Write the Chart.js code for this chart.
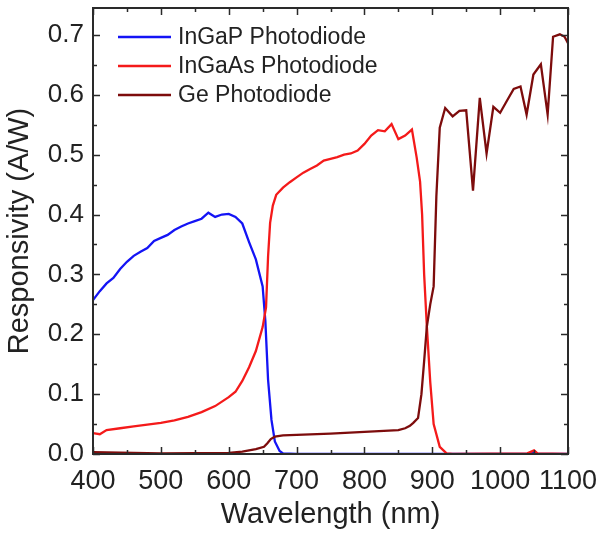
<!DOCTYPE html>
<html>
<head>
<meta charset="utf-8">
<script src="https://cdn.jsdelivr.net/npm/chart.js@4/dist/chart.umd.min.js"></script>
<style>
  html, body { margin: 0; padding: 0; background: #ffffff; }
  #wrap { width: 601px; height: 533px; position: relative; }
</style>
</head>
<body>
<div id="wrap"><canvas id="c" width="601" height="533"></canvas></div>
<script>
// ---- Data ----
const seriesNames = ["InGaP Photodiode", "InGaAs Photodiode", "Ge Photodiode"];

const ingapWl   = [400,410,420,430,440,450,460,470,480,490,500,510,520,530,540,550,560,570,580,590,600,610,620,630,640,650,654,658,663,668,675,680,700,800,900,1000,1045,1050,1055,1100];
const ingapResp = [0.257,0.272,0.285,0.294,0.309,0.321,0.331,0.338,0.344,0.356,0.361,0.366,0.374,0.380,0.385,0.389,0.393,0.403,0.396,0.400,0.401,0.396,0.385,0.354,0.325,0.280,0.222,0.124,0.057,0.021,0.005,0.001,0,0,0,0,0,0.004,0,0];

const ingaasWl   = [400,410,420,440,460,480,500,520,540,560,580,600,610,620,630,640,650,655,658,661,665,670,680,690,700,710,720,730,740,750,760,770,780,790,800,810,820,830,840,850,860,870,877,882,885,888,892,897,902,911,921,930,1040,1050,1055,1100];
const ingaasResp = [0.035,0.033,0.040,0.043,0.046,0.049,0.052,0.056,0.062,0.070,0.080,0.095,0.104,0.122,0.145,0.172,0.212,0.245,0.330,0.386,0.415,0.433,0.445,0.454,0.462,0.470,0.476,0.482,0.490,0.493,0.496,0.500,0.502,0.507,0.518,0.532,0.541,0.539,0.551,0.526,0.532,0.542,0.495,0.455,0.400,0.300,0.213,0.120,0.050,0.012,0.001,0,0.001,0.006,0.001,0];

const geWl   = [400,500,600,620,640,652,657,662,668,680,700,750,800,850,860,867,872,879,884,888,892,897,902,906,911,919,930,940,950,960,970,980,990,1000,1010,1020,1030,1039,1049,1060,1070,1078,1088,1095,1100];
const geResp = [0.003,0.001,0.002,0.004,0.008,0.012,0.018,0.025,0.029,0.031,0.032,0.034,0.037,0.040,0.043,0.047,0.052,0.060,0.100,0.155,0.213,0.250,0.280,0.430,0.545,0.578,0.564,0.573,0.574,0.440,0.595,0.502,0.580,0.570,0.590,0.610,0.614,0.567,0.634,0.651,0.567,0.697,0.701,0.697,0.686];

const xTickValues = [400,450,500,550,600,650,700,750,800,850,900,950,1000,1050,1100];
const xTickLabels = ["400","","500","","600","","700","","800","","900","","1000","","1100"];
const yTickValues = [0,0.05,0.1,0.15,0.2,0.25,0.3,0.35,0.4,0.45,0.5,0.55,0.6,0.65,0.7];
const yTickLabels = ["0.0","","0.1","","0.2","","0.3","","0.4","","0.5","","0.6","","0.7"];

// ---- Styling ----
const colors = ["#1414f5", "#f41a1a", "#7d0c0c"];
const FONT = "'Liberation Sans', Arial, Helvetica, sans-serif";
const TEXT = "#222222";

function pts(wl, r) { return wl.map((w, i) => ({ x: w, y: r[i] })); }

// Inward ticks on all four sides + frame
const framePlugin = {
  id: 'frame',
  afterDatasetsDraw(chart) {
    const { ctx, chartArea: a, scales } = chart;
    const xs = scales.x, ys = scales.y;
    ctx.save();
    ctx.strokeStyle = "#2a2a2a";
    ctx.lineWidth = 1.5;
    ctx.beginPath();
    xs.ticks.forEach((t, i) => {
      const px = Math.round(xs.getPixelForValue(t.value)) + 0.5;
      const len = xTickLabels[i] ? 7 : 4;
      ctx.moveTo(px, a.bottom); ctx.lineTo(px, a.bottom - len);
      ctx.moveTo(px, a.top); ctx.lineTo(px, a.top + len);
    });
    ys.ticks.forEach((t, i) => {
      const py = Math.round(ys.getPixelForValue(t.value)) + 0.5;
      const len = yTickLabels[i] ? 7 : 4;
      ctx.moveTo(a.left, py); ctx.lineTo(a.left + len, py);
      ctx.moveTo(a.right, py); ctx.lineTo(a.right - len, py);
    });
    ctx.stroke();
    ctx.lineWidth = 2;
    ctx.strokeRect(a.left, a.top, a.right - a.left, a.bottom - a.top);
    ctx.restore();
  }
};

// Legend inside the plot, top-left
const legendPlugin = {
  id: 'innerLegend',
  afterDraw(chart) {
    const { ctx } = chart;
    ctx.save();
    ctx.font = "23px " + FONT;
    ctx.textBaseline = "middle";
    ctx.fillStyle = TEXT;
    const rowsY = [37, 66, 95];
    chart.data.datasets.forEach((ds, i) => {
      const y = rowsY[i];
      ctx.strokeStyle = ds.borderColor;
      ctx.lineWidth = 2.5;
      ctx.beginPath(); ctx.moveTo(118, y); ctx.lineTo(171, y); ctx.stroke();
      ctx.fillText(ds.label, 178, y + 1);
    });
    ctx.restore();
  }
};

new Chart(document.getElementById('c'), {
  type: 'line',
  data: {
    datasets: [
      { label: seriesNames[0], data: pts(ingapWl, ingapResp), borderColor: colors[0], order: 3 },
      { label: seriesNames[1], data: pts(ingaasWl, ingaasResp), borderColor: colors[1], order: 2 },
      { label: seriesNames[2], data: pts(geWl, geResp), borderColor: colors[2], order: 1 }
    ]
  },
  options: {
    responsive: false,
    animation: false,
    devicePixelRatio: 1,
    layout: { padding: { left: 0, right: 33, top: 8, bottom: 0 } },
    elements: {
      point: { radius: 0 },
      line: { borderWidth: 2.3, tension: 0, fill: false }
    },
    plugins: { legend: { display: false }, tooltip: { enabled: false } },
    scales: {
      x: {
        type: 'linear', min: 400, max: 1100,
        grid: { display: false, drawTicks: false },
        border: { display: false },
        afterBuildTicks: s => { s.ticks = xTickValues.map(v => ({ value: v })); },
        ticks: {
          padding: 11, color: TEXT, autoSkip: false, maxRotation: 0,
          font: { family: FONT, size: 27 },
          callback: (v, i) => xTickLabels[i]
        },
        title: { display: true, text: 'Wavelength (nm)', color: TEXT, font: { family: FONT, size: 29 }, padding: { top: 0, bottom: 1 } },
        afterFit: s => { s.height = 79; s.paddingLeft = 0; s.paddingRight = 0; }
      },
      y: {
        type: 'linear', min: 0, max: 0.745,
        grid: { display: false, drawTicks: false },
        border: { display: false },
        afterBuildTicks: s => { s.ticks = yTickValues.map(v => ({ value: v })); },
        ticks: {
          padding: 9, color: TEXT, autoSkip: false,
          font: { family: FONT, size: 26 },
          callback: (v, i) => yTickLabels[i]
        },
        title: { display: true, text: 'Responsivity (A/W)', color: TEXT, font: { family: FONT, size: 29 }, padding: { top: 3, bottom: 0 } },
        afterFit: s => { s.width = 93; s.paddingTop = 0; s.paddingBottom = 0; }
      }
    }
  },
  plugins: [framePlugin, legendPlugin]
});
</script>
</body>
</html>
